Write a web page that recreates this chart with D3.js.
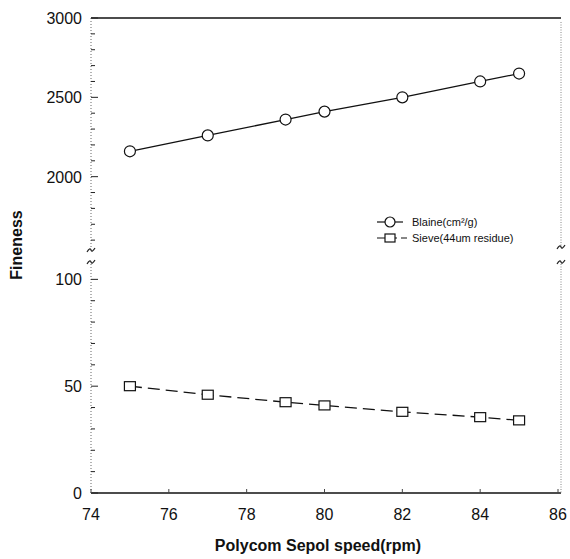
<!DOCTYPE html>
<html>
<head>
<meta charset="utf-8">
<script src="https://cdn.jsdelivr.net/npm/d3@7"></script>
<style>
  body { margin: 0; background: #fff; }
  text { font-family: "Liberation Sans", Arial, sans-serif; fill: #111; }
</style>
</head>
<body>
<div id="chart"></div>
<script>
// data
var speed = [75, 77, 79, 80, 82, 84, 85];
var blaine = [2160, 2260, 2360, 2410, 2500, 2600, 2650];
var sieve = [50, 46, 42.5, 41, 38, 35.5, 34];
var xTicks = [74, 76, 78, 80, 82, 84, 86];
var topTicks = [2000, 2500, 3000];
var botTicks = [0, 50, 100];

var width = 570, height = 559;
var svg = d3.select('#chart').append('svg')
    .attr("width", width)
    .attr("height", height);

var x = d3.scaleLinear().domain([74, 86]).range([91, 558]);
var yTop = d3.scaleLinear().domain([1500, 3000]).range([256, 18]);
var yBot = d3.scaleLinear().domain([0, 110]).range([493, 258]);

var left = x(74), right = x(86) + 3;

// frame
svg.append("line")
    .attr("x1", left).attr("x2", right)
    .attr("y1", yTop(3000)).attr("y2", yTop(3000))
    .attr("stroke", "#111").attr("stroke-width", 1.5);
svg.append("line")
    .attr("x1", left).attr("x2", right)
    .attr("y1", yBot(0)).attr("y2", yBot(0))
    .attr("stroke", "#111").attr("stroke-width", 1.5);

// left axis (dotted, broken)
svg.append("line")
    .attr("x1", left).attr("x2", left)
    .attr("y1", yTop(3000)).attr("y2", 249)
    .attr("stroke", "#666").attr("stroke-dasharray", "1,2");
svg.append("line")
    .attr("x1", left).attr("x2", left)
    .attr("y1", 264).attr("y2", yBot(0))
    .attr("stroke", "#666").attr("stroke-dasharray", "1,2");
// right axis
svg.append("line")
    .attr("x1", right).attr("x2", right)
    .attr("y1", yTop(3000) + 4).attr("y2", 246)
    .attr("stroke", "#888").attr("stroke-dasharray", "1,1.5");
svg.append("line")
    .attr("x1", right).attr("x2", right)
    .attr("y1", 264).attr("y2", yBot(0))
    .attr("stroke", "#888").attr("stroke-dasharray", "1,1.5");

// break marks
function breakMark(cx, cy) {
    svg.append("path")
        .attr("d", "M" + (cx - 4) + "," + (cy + 2) + " q3,-5 4,-2 q1,3 4,-2")
        .attr("fill", "none").attr("stroke", "#222").attr("stroke-width", 1.2);
}
breakMark(left, 250);
breakMark(left, 262);
breakMark(right, 247);
breakMark(right, 262);

// y ticks, upper segment
d3.range(1600, 3001, 100).forEach(function (v) {
    var major = topTicks.indexOf(v) >= 0;
    svg.append("line")
        .attr("x1", left).attr("x2", left + (major ? 7 : 4))
        .attr("y1", yTop(v)).attr("y2", yTop(v))
        .attr("stroke", "#222").attr("stroke-width", 1);
});
topTicks.forEach(function (v) {
    svg.append("text")
        .attr("x", left - 9).attr("y", yTop(v) + 6)
        .attr("text-anchor", "end")
        .style("font-size", "16px")
        .text(v);
});

// y ticks, lower segment
d3.range(0, 101, 10).forEach(function (v) {
    var major = botTicks.indexOf(v) >= 0;
    svg.append("line")
        .attr("x1", left).attr("x2", left + (major ? 7 : 4))
        .attr("y1", yBot(v)).attr("y2", yBot(v))
        .attr("stroke", "#222").attr("stroke-width", 1);
});
botTicks.forEach(function (v) {
    svg.append("text")
        .attr("x", left - 9).attr("y", yBot(v) + 6)
        .attr("text-anchor", "end")
        .style("font-size", "16px")
        .text(v);
});

// x ticks
xTicks.forEach(function (v) {
    svg.append("line")
        .attr("x1", x(v)).attr("x2", x(v))
        .attr("y1", yBot(0)).attr("y2", yBot(0) - 4)
        .attr("stroke", "#444");
    svg.append("text")
        .attr("x", x(v)).attr("y", yBot(0) + 27)
        .attr("text-anchor", "middle")
        .style("font-size", "16px")
        .text(v);
});

// axis titles
svg.append("text")
    .attr("x", 318).attr("y", 551)
    .attr("text-anchor", "middle")
    .style("font-size", "16px").style("font-weight", "bold")
    .text("Polycom Sepol speed(rpm)");
svg.append("text")
    .attr("transform", "translate(22,245) rotate(-90)")
    .attr("text-anchor", "middle")
    .style("font-size", "16px").style("font-weight", "bold")
    .text("Fineness");

// lines
var blaineData = speed.map(function (s, i) { return { x: s, y: blaine[i] }; });
var sieveData = speed.map(function (s, i) { return { x: s, y: sieve[i] }; });

var lineTop = d3.line()
    .x(function (d) { return x(d.x); })
    .y(function (d) { return yTop(d.y); });
var lineBot = d3.line()
    .x(function (d) { return x(d.x); })
    .y(function (d) { return yBot(d.y); });

svg.append("path")
    .data([blaineData])
    .attr("d", lineTop)
    .attr("fill", "none").attr("stroke", "#111").attr("stroke-width", 1.3);
svg.append("path")
    .data([sieveData])
    .attr("d", lineBot)
    .attr("fill", "none").attr("stroke", "#111").attr("stroke-width", 1.3)
    .attr("stroke-dasharray", "12,6");

svg.selectAll(".pt-blaine")
    .data(blaineData).enter().append("circle")
    .attr("class", "pt-blaine")
    .attr("cx", function (d) { return x(d.x); })
    .attr("cy", function (d) { return yTop(d.y); })
    .attr("r", 5.5)
    .attr("fill", "#fff").attr("stroke", "#111").attr("stroke-width", 1.2);

svg.selectAll(".pt-sieve")
    .data(sieveData).enter().append("rect")
    .attr("class", "pt-sieve")
    .attr("x", function (d) { return x(d.x) - 5.5; })
    .attr("y", function (d) { return yBot(d.y) - 4.5; })
    .attr("width", 11).attr("height", 9)
    .attr("fill", "#fff").attr("stroke", "#111").attr("stroke-width", 1.2);

// legend
var lg = svg.append("g").attr("transform", "translate(377,222)");
lg.append("line").attr("x1", 0).attr("x2", 26).attr("y1", 0).attr("y2", 0)
    .attr("stroke", "#111").attr("stroke-width", 1.2);
lg.append("circle").attr("cx", 13).attr("cy", 0).attr("r", 5)
    .attr("fill", "#fff").attr("stroke", "#111").attr("stroke-width", 1.2);
lg.append("text").attr("x", 35).attr("y", 4)
    .style("font-size", "11px")
    .text("Blaine(cm²/g)");
lg.append("line").attr("x1", 0).attr("x2", 30).attr("y1", 16).attr("y2", 16)
    .attr("stroke", "#111").attr("stroke-width", 1.2)
    .attr("stroke-dasharray", "8,4");
lg.append("rect").attr("x", 8).attr("y", 12).attr("width", 10).attr("height", 8)
    .attr("fill", "#fff").attr("stroke", "#111").attr("stroke-width", 1.2);
lg.append("text").attr("x", 35).attr("y", 20)
    .style("font-size", "11px")
    .text("Sieve(44um residue)");
</script>
</body>
</html>
